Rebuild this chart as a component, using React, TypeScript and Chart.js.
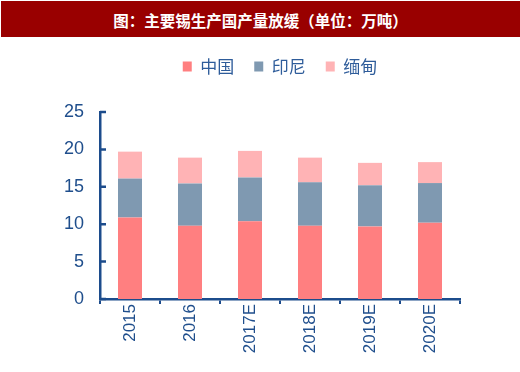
import React, { useEffect, useRef } from "react";
import { Chart, registerables } from "chart.js";

Chart.register(...registerables);

const titleText = "图：主要锡生产国产量放缓（单位：万吨）";
const categories = ["2015", "2016", "2017E", "2018E", "2019E", "2020E"];
const seriesNames = ["中国", "印尼", "缅甸"];
const chinaValues = [10.9, 9.8, 10.4, 9.8, 9.7, 10.2];
const indonesiaValues = [5.2, 5.65, 5.85, 5.8, 5.5, 5.3];
const myanmarValues = [3.6, 3.45, 3.55, 3.3, 3.0, 2.8];
const yMin = 0;
const yMax = 25;
const yStep = 5;

const AXIS = "#1C4C8C";
const LABEL = "#1F4E8C";
const LEGEND_GAP = 27;

const legendGapPlugin = {
  id: "legendGap",
  beforeUpdate(chart: any) {
    const lg = chart.legend;
    if (lg && !lg.__patched) {
      const orig = lg.fit.bind(lg);
      lg.fit = function () {
        orig();
        this.height += LEGEND_GAP;
      };
      lg.__patched = true;
    }
  },
};

const yTickMarks = {
  id: "yTickMarks",
  afterDraw(chart: any) {
    const ys = chart.scales.y;
    const x0 = chart.chartArea.left;
    const ctx = chart.ctx;
    ctx.save();
    ctx.strokeStyle = AXIS;
    ctx.lineWidth = 2.5;
    ctx.beginPath();
    ys.ticks.forEach((_: any, i: number) => {
      const py = ys.getPixelForTick(i);
      ctx.moveTo(x0, py);
      ctx.lineTo(x0 + 6, py);
    });
    ctx.stroke();
    ctx.restore();
  },
};

export default function App() {
  const ref = useRef<HTMLCanvasElement | null>(null);
  useEffect(() => {
    if (!ref.current) return;
    const chart = new Chart(ref.current, {
      type: "bar",
      data: {
        labels: categories,
        datasets: [
          { label: seriesNames[0], data: chinaValues, backgroundColor: "#FF7F80" },
          { label: seriesNames[1], data: indonesiaValues, backgroundColor: "#7F99B1" },
          { label: seriesNames[2], data: myanmarValues, backgroundColor: "#FFB3B5" },
        ],
      },
      options: {
        responsive: false,
        animation: false,
        devicePixelRatio: 1,
        layout: { padding: { left: 0, right: 60, top: 0, bottom: 0 } },
        datasets: { bar: { barPercentage: 0.4, categoryPercentage: 1 } } as any,
        plugins: {
          legend: {
            position: "top",
            fullSize: false,
            labels: {
              boxWidth: 9,
              boxHeight: 10,
              padding: 20,
              color: "#2E5C9A",
              font: { family: "'Noto Sans CJK SC', sans-serif", size: 17 },
            },
          },
          tooltip: { enabled: false },
        },
        scales: {
          x: {
            stacked: true,
            grid: {
              display: true,
              drawOnChartArea: false,
              drawTicks: true,
              tickLength: 5,
              color: AXIS,
              lineWidth: 2,
            },
            border: { display: true, color: AXIS, width: 2.5 },
            ticks: {
              color: LABEL,
              padding: 0,
              minRotation: 90,
              maxRotation: 90,
              font: { family: "'Liberation Sans', Arial, sans-serif", size: 17 },
            },
            afterFit(scale: any) {
              scale.height = 73;
            },
          },
          y: {
            stacked: true,
            min: yMin,
            max: yMax,
            grid: { display: false, drawTicks: false },
            border: { display: true, color: AXIS, width: 2.5 },
            ticks: {
              stepSize: yStep,
              color: LABEL,
              padding: 16,
              font: { family: "'Liberation Sans', Arial, sans-serif", size: 18 },
            },
            afterFit(scale: any) {
              scale.width = 100;
            },
          },
        },
      },
      plugins: [legendGapPlugin, yTickMarks],
    } as any);
    return () => chart.destroy();
  }, []);

  return (
    <div
      style={{
        position: "fixed",
        left: 0,
        top: 0,
        width: 520,
        height: 372,
        background: "#fff",
        overflow: "hidden",
      }}
    >
      <div
        style={{
          position: "absolute",
          left: 1,
          top: 1,
          width: 519,
          height: 36,
          background: "#990000",
          color: "#fff",
          fontFamily: "'Noto Sans CJK SC', sans-serif",
          fontWeight: 700,
          fontSize: 15.5,
          lineHeight: "38px",
          textAlign: "center",
          whiteSpace: "nowrap",
        }}
      >
        {titleText}
      </div>
      <canvas
        ref={ref}
        width={520}
        height={334}
        style={{ position: "absolute", left: 0, top: 38, width: 520, height: 334 }}
      />
    </div>
  );
}
